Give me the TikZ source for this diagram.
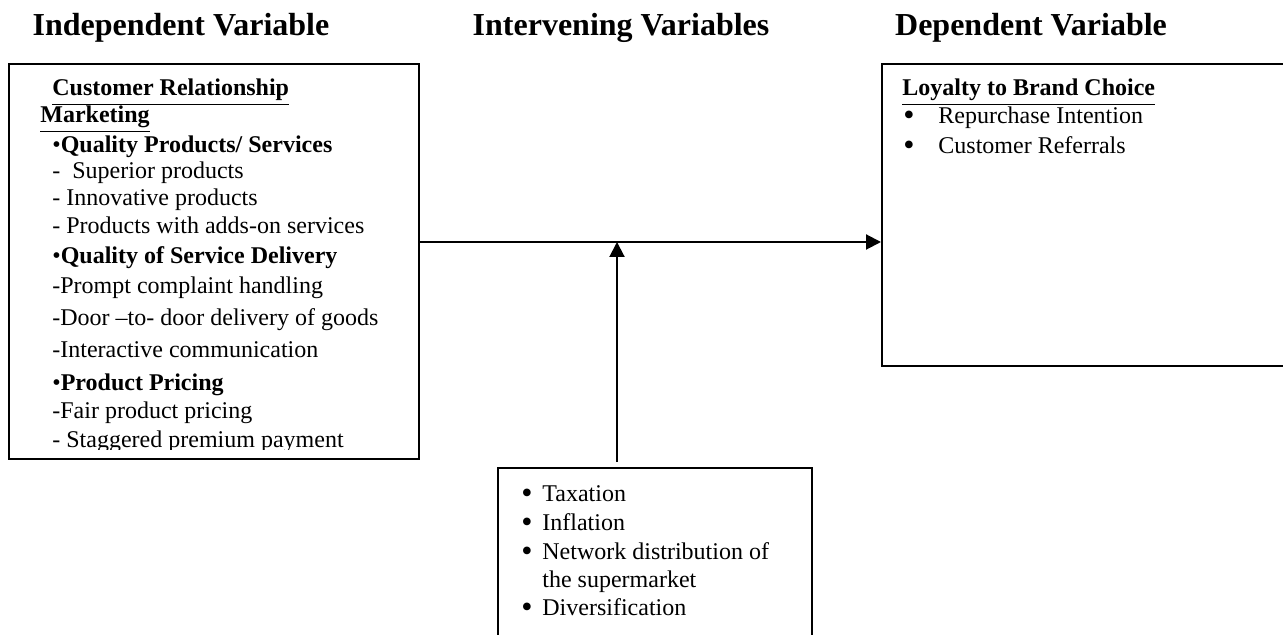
\documentclass[tikz,border=0pt]{standalone}
\usepackage{fontspec}
\setmainfont{Liberation Serif}
\usetikzlibrary{arrows.meta}
\tikzset{
  frame/.style={draw, line width=0.8pt, inner sep=0pt, anchor=north west},
  head/.style={font=\fontsize{16}{19}\selectfont\bfseries, anchor=base},
  txt/.style={font=\fontsize{12}{14}\selectfont, anchor=base west, inner sep=0pt},
  dot/.style={font=\fontsize{16}{16}\selectfont, anchor=base west, inner sep=0pt, yshift=-1pt},
  flow/.style={line width=1pt, -{Triangle[length=7.5pt,width=7.5pt]}}
}
\begin{document}
\begin{tikzpicture}[x=0.5pt,y=-0.5pt]
\useasboundingbox (0,0) rectangle (1283,635);
\clip (0,0) rectangle (1283,635);
% headings
\node[head] (indep) at (181,36) {Independent Variable};
\node[head] (inter) at (621,36) {Intervening Variables};
\node[head] (dep) at (1031,36) {Dependent Variable};
% boxes
\node[frame, minimum width=205pt, minimum height=197.5pt] (crm) at (8,63) {};
\node[frame, minimum width=212pt, minimum height=151pt] (loyal) at (881,63) {};
\node[frame, minimum width=157pt, minimum height=100pt] (env) at (497,467) {};
% independent variable
\begin{scope}
\clip (crm.north west) rectangle ([yshift=5pt]crm.south east);
\node[txt] (c1) at (52,96) {\textbf{\underline{Customer Relationship}}};
\node[txt] (c2) at (40,123) {\textbf{\underline{Marketing}}};
\node[txt] (c3) at (52,153) {\textbullet\textbf{Quality Products/ Services}};
\node[txt] (c4) at (52,179) {-\hspace{0.5em}Superior products};
\node[txt] (c5) at (52,206) {- Innovative products};
\node[txt] (c6) at (52,234) {- Products with adds-on services};
\node[txt] (c7) at (52,264) {\textbullet\textbf{Quality of Service Delivery}};
\node[txt] (c8) at (52,294) {-Prompt complaint handling};
\node[txt] (c9) at (52,326) {-Door --to- door delivery of goods};
\node[txt] (c10) at (52,358) {-Interactive communication};
\node[txt] (c11) at (52,391) {\textbullet\textbf{Product Pricing}};
\node[txt] (c12) at (52,419) {-Fair product pricing};
\node[txt] (c13) at (52,447) {- Staggered premium payment};
\end{scope}
% dependent variable
\node[txt] (d1) at (902,96) {\textbf{\underline{Loyalty to Brand Choice}}};
\node[dot] (d2) at (903,124) {\textbullet};
\node[txt] (d3) at (938,124) {Repurchase Intention};
\node[dot] (d4) at (903,154) {\textbullet};
\node[txt] (d5) at (938,154) {Customer Referrals};
% intervening variables
\node[dot] (b1) at (521,501) {\textbullet};
\node[txt] (i1) at (542,501) {Taxation};
\node[dot] (b2) at (521,530) {\textbullet};
\node[txt] (i2) at (542,530) {Inflation};
\node[dot] (b3) at (521,559) {\textbullet};
\node[txt] (i3) at (542,559) {Network distribution of};
\node[txt] (i4) at (542,587) {the supermarket};
\node[dot] (b5) at (521,615) {\textbullet};
\node[txt] (i5) at (542,615) {Diversification};
% connectors
\coordinate (meet) at (617,242);
\draw[flow] (crm.east |- meet) -- (loyal.west |- meet);
\draw[flow] ([yshift=2.5pt]meet |- env.north) -- (meet);
\end{tikzpicture}
\end{document}
